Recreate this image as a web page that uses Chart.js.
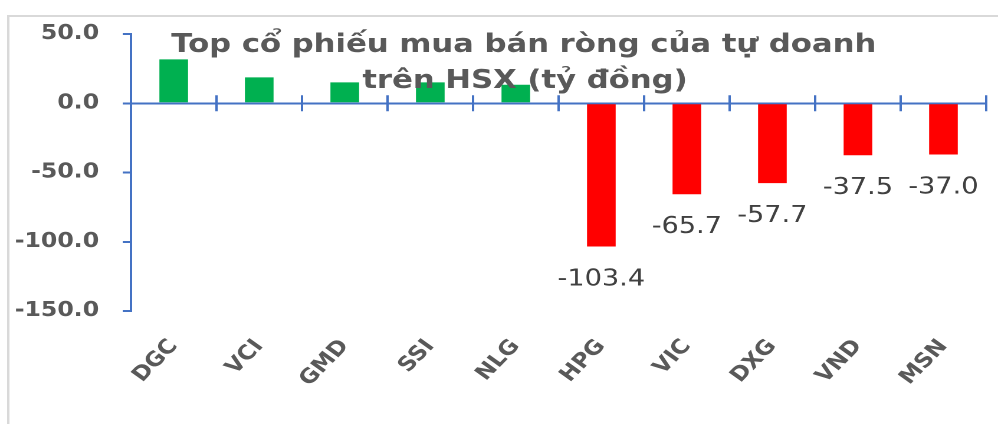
<!DOCTYPE html>
<html>
<head>
<meta charset="utf-8">
<script src="https://cdn.jsdelivr.net/npm/chart.js@4.4.0/dist/chart.umd.min.js"></script>
<style>
html, body { margin: 0; padding: 0; background: #fff; }
canvas { display: block; }
</style>
</head>
<body>
<!-- drawn narrower and stretched, the reference is widened the same way -->
<canvas id="chart" width="846" height="424" style="width:998px;height:424px"></canvas>
<script>
// Data
const categories = ['DGC', 'VCI', 'GMD', 'SSI', 'NLG', 'HPG', 'VIC', 'DXG', 'VND', 'MSN'];
const netValues = [31.7, 18.7, 15.1, 15.1, 13.4, -103.4, -65.7, -57.7, -37.5, -37.0];
const yTicks = [50, 0, -50, -100, -150];
const titleLines = ['Top cổ phiếu mua bán ròng của tự doanh', 'trên HSX (tỷ đồng)'];

const BLUE = '#4472C4';
const GRAY = '#595959';
const FONT = "'DejaVu Sans', sans-serif";

// light frame round the chart
const framePlugin = {
    id: 'frame',
    beforeDraw(chart) {
        const ctx = chart.ctx;
        ctx.save();
        ctx.fillStyle = '#fff';
        ctx.fillRect(0, 0, chart.width, chart.height);
        ctx.strokeStyle = '#d9d9d9';
        ctx.lineWidth = 2;
        ctx.strokeRect(7, 16, chart.width + 20, chart.height + 20);
        ctx.restore();
    }
};

// cross ticks on the zero line, values under the red bars, title on top
const overlayPlugin = {
    id: 'overlay',
    afterDatasetsDraw(chart) {
        const ctx = chart.ctx;
        const x = chart.scales.x;
        const y0 = chart.scales.y.getPixelForValue(0);
        const step = (x.right - x.left) / categories.length;

        ctx.save();
        ctx.strokeStyle = BLUE;
        ctx.lineWidth = 2;
        for (let i = 0; i <= categories.length; i++) {
            const px = x.left + i * step;
            ctx.beginPath();
            ctx.moveTo(px, y0 - 8);
            ctx.lineTo(px, y0 + 8);
            ctx.stroke();
        }

        ctx.fillStyle = '#404040';
        ctx.font = `23px ${FONT}`;
        ctx.textAlign = 'center';
        ctx.textBaseline = 'middle';
        chart.getDatasetMeta(0).data.forEach((bar, i) => {
            if (netValues[i] < 0) {
                ctx.fillText(netValues[i].toFixed(1), bar.x, bar.y + 33);
            }
        });

        ctx.fillStyle = GRAY;
        ctx.font = `bold 26px ${FONT}`;
        ctx.textBaseline = 'alphabetic';
        ctx.fillText(titleLines[0], 444, 52);
        ctx.fillText(titleLines[1], 445, 88);
        ctx.restore();
    }
};

const ctx = document.getElementById('chart').getContext('2d');
const chart = new Chart(ctx, {
    type: 'bar',
    data: {
        labels: categories,
        datasets: [{
            data: netValues,
            backgroundColor: netValues.map(v => v >= 0 ? '#00B050' : '#FF0000'),
            categoryPercentage: 1,
            barPercentage: 0.335
        }]
    },
    options: {
        responsive: false,
        animation: false,
        devicePixelRatio: 2,
        layout: { padding: { top: 34, right: 10, bottom: 0, left: 0 } },
        plugins: {
            legend: { display: false },
            tooltip: { enabled: false }
        },
        scales: {
            x: {
                position: { y: 0 },
                z: 1,
                grid: { display: false },
                border: { color: BLUE, width: 2 },
                ticks: { display: false }
            },
            x2: {
                type: 'category',
                labels: categories,
                position: 'bottom',
                offset: true,
                grid: { display: false, drawTicks: false },
                border: { display: false },
                ticks: {
                    color: GRAY,
                    font: { family: FONT, size: 20, weight: 'bold' },
                    minRotation: 50,
                    maxRotation: 50,
                    padding: 24
                },
                afterFit: s => { s.height = 113; }
            },
            y: {
                min: -150,
                max: 50,
                afterBuildTicks: s => { s.ticks = yTicks.map(v => ({ value: v })); },
                afterFit: s => { s.width = 111; },
                grid: { drawOnChartArea: false, color: BLUE, lineWidth: 2, tickLength: 7 },
                border: { color: BLUE, width: 2 },
                ticks: {
                    color: GRAY,
                    font: { family: FONT, size: 20, weight: 'bold' },
                    padding: 20,
                    callback: v => v.toFixed(1)
                }
            }
        }
    },
    plugins: [framePlugin, overlayPlugin]
});
</script>
</body>
</html>
